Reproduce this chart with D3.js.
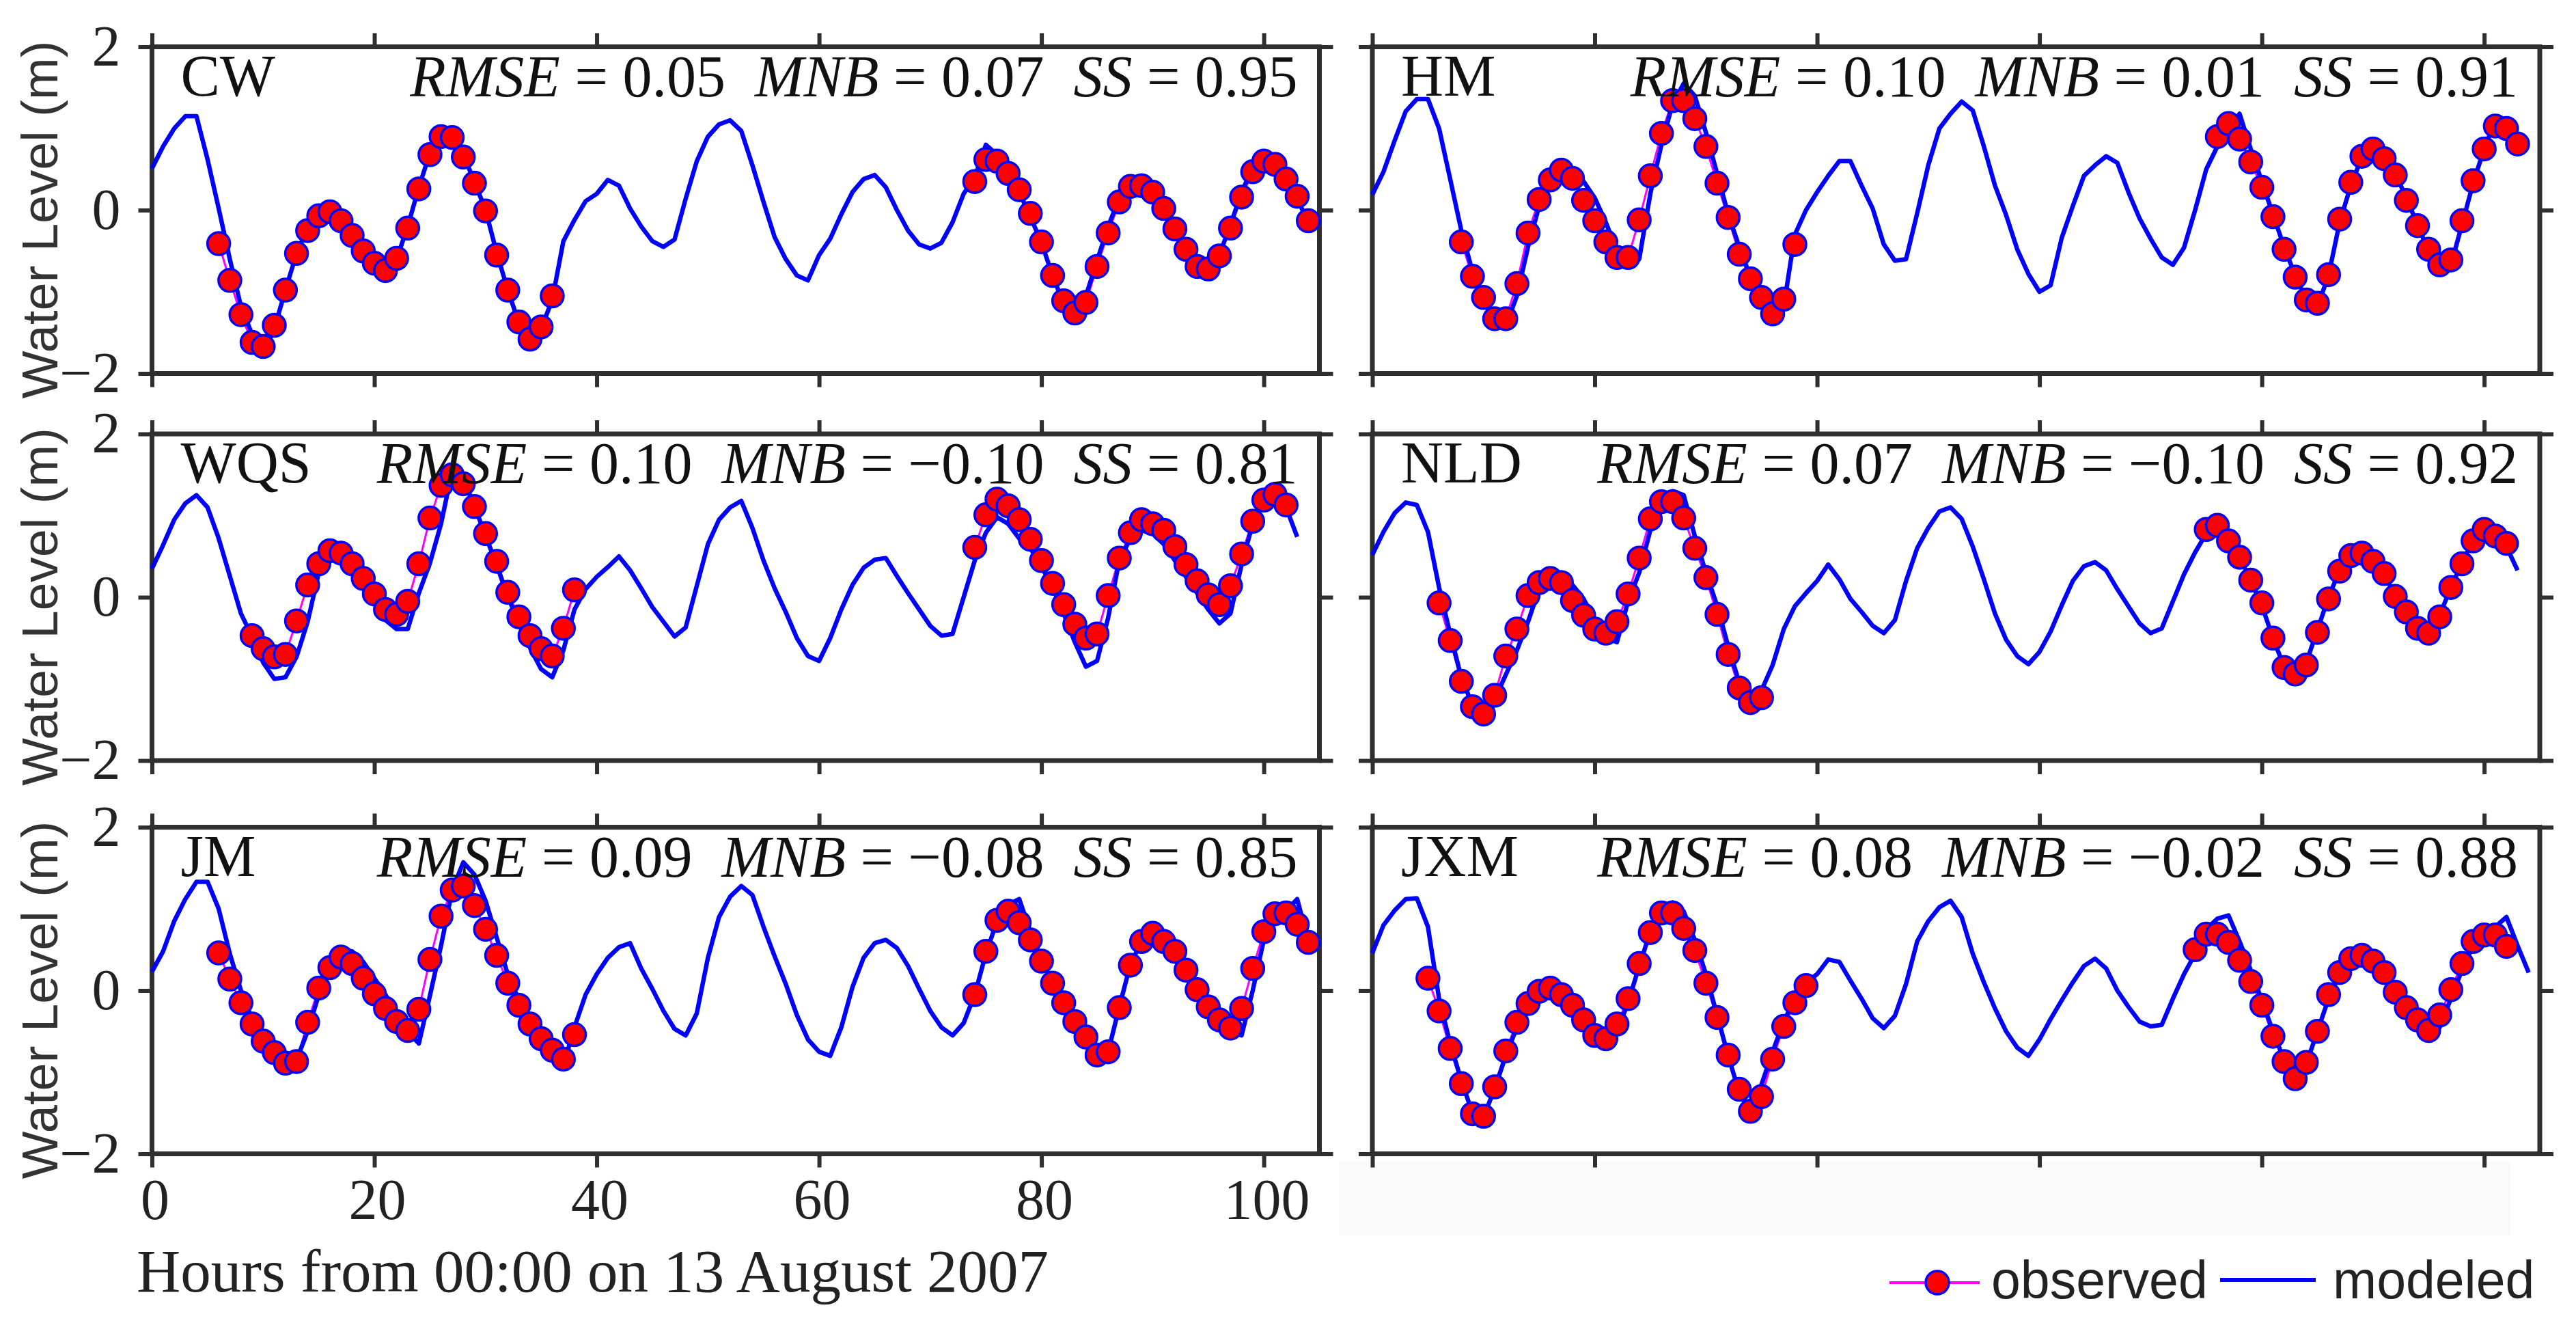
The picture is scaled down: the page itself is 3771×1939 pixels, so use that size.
<!DOCTYPE html>
<html><head><meta charset="utf-8">
<script src="https://cdn.jsdelivr.net/npm/d3@7"></script>
<style>
html,body{margin:0;padding:0;background:#fff;}
svg{display:block;}
</style></head><body>
<svg id="chart" width="3771" height="1939"></svg>
<script>
// ---------- data ----------
const stations = ["CW","HM","WQS","NLD","JM","JXM"];
const rmseVals = ["0.05","0.10","0.10","0.07","0.09","0.08"];
const mnbVals  = ["0.07","0.01","\u22120.10","\u22120.10","\u22120.08","\u22120.02"];
const ssVals   = ["0.95","0.91","0.81","0.92","0.85","0.88"];
const xTickValues = [0,20,40,60,80,100];
const yTickValues = [-2,0,2];
const xTitle = "Hours from 00:00 on 13 August 2007";
const yTitle = "Water Level (m)";
const legendLabels = ["observed","modeled"];

// modeled water level, hourly from hour 0
const modelCW = [0.51,0.78,1.0,1.15,1.15,0.62,0.02,-0.6,-1.18,-1.52,
 -1.78,-1.45,-0.98,-0.53,-0.22,-0.03,0.0,-0.1,-0.3,-0.5,
 -0.68,-0.78,-0.6,-0.2,0.28,0.7,0.95,0.93,0.68,0.35,
 0.0,-0.52,-0.98,-1.38,-1.62,-1.45,-1.1,-0.38,-0.12,0.11,
 0.2,0.37,0.3,0.02,-0.2,-0.38,-0.45,-0.36,0.14,0.6,
 0.9,1.05,1.1,0.97,0.55,0.1,-0.33,-0.6,-0.8,-0.86,
 -0.55,-0.35,-0.05,0.22,0.38,0.43,0.28,0.0,-0.25,-0.42,
 -0.47,-0.4,-0.15,0.2,0.4,0.8,0.68,0.45,0.22,-0.08,
 -0.4,-0.8,-1.15,-1.35,-1.05,-0.62,-0.2,0.15,0.33,0.33,
 0.22,0.0,-0.25,-0.5,-0.72,-0.78,-0.55,-0.18,0.22,0.52,
 0.63,0.57,0.38,0.14,-0.15];
const modelHM = [0.19,0.47,0.85,1.21,1.36,1.36,1.0,0.38,-0.25,-0.75,
 -1.1,-1.38,-1.42,-1.05,-0.45,0.05,0.4,0.58,0.5,0.35,
 0.15,-0.15,-0.5,-0.68,-0.6,0.2,0.8,1.3,1.55,1.4,
 0.95,0.45,-0.05,-0.45,-0.82,-1.1,-1.3,-1.18,-0.3,0.0,
 0.22,0.42,0.6,0.6,0.3,0.02,-0.42,-0.62,-0.6,-0.04,
 0.55,1.0,1.18,1.33,1.22,0.78,0.3,-0.06,-0.48,-0.78,
 -1.0,-0.92,-0.34,0.05,0.42,0.55,0.66,0.58,0.22,-0.1,
 -0.35,-0.58,-0.67,-0.46,0.0,0.5,0.78,1.0,1.18,0.75,
 0.35,-0.05,-0.45,-0.8,-1.1,-1.18,-0.8,-0.15,0.3,0.65,
 0.78,0.68,0.45,0.15,-0.18,-0.5,-0.7,-0.68,-0.18,0.33,
 0.75,1.1,1.12,0.85];
const modelWQS = [0.35,0.64,0.95,1.15,1.25,1.1,0.72,0.26,-0.2,-0.48,
 -0.8,-1.0,-0.98,-0.73,-0.3,0.3,0.62,0.52,0.38,0.18,
 -0.05,-0.28,-0.39,-0.39,0.05,0.42,0.9,1.55,1.45,1.12,
 0.75,0.4,0.0,-0.3,-0.62,-0.88,-0.98,-0.65,-0.15,0.1,
 0.25,0.37,0.5,0.33,0.11,-0.12,-0.3,-0.48,-0.37,0.14,
 0.65,0.95,1.1,1.18,0.85,0.45,0.11,-0.18,-0.5,-0.72,
 -0.78,-0.5,-0.15,0.15,0.36,0.46,0.48,0.26,0.05,-0.15,
 -0.35,-0.47,-0.45,0.0,0.45,0.79,0.98,0.9,0.72,0.6,
 0.38,0.12,-0.2,-0.55,-0.85,-0.78,-0.25,0.45,0.72,0.82,
 0.78,0.65,0.45,0.25,0.05,-0.15,-0.32,-0.2,0.4,0.9,
 1.18,1.28,1.1,0.74];
const modelNLD = [0.52,0.8,1.03,1.16,1.13,0.8,0.12,-0.45,-0.98,-1.32,
 -1.5,-1.25,-0.95,-0.65,-0.3,0.1,0.27,0.3,0.15,-0.02,
 -0.28,-0.5,-0.55,-0.05,0.3,0.82,1.2,1.3,1.25,0.75,
 0.3,-0.1,-0.6,-1.05,-1.38,-1.14,-0.83,-0.39,-0.11,0.05,
 0.2,0.4,0.22,-0.02,-0.18,-0.35,-0.44,-0.28,0.2,0.6,
 0.85,1.05,1.1,0.96,0.62,0.22,-0.2,-0.52,-0.72,-0.82,
 -0.67,-0.42,-0.1,0.2,0.38,0.43,0.33,0.1,-0.11,-0.32,
 -0.44,-0.38,-0.05,0.28,0.55,0.78,0.95,0.72,0.5,0.2,
 -0.1,-0.5,-0.85,-0.95,-0.8,-0.4,0.0,0.33,0.52,0.55,
 0.45,0.28,0.02,-0.2,-0.4,-0.45,-0.22,0.12,0.42,0.7,
 0.85,0.78,0.62,0.33];
const modelJM = [0.23,0.48,0.85,1.12,1.33,1.33,1.0,0.45,0.0,-0.35,
 -0.6,-0.8,-1.0,-0.85,-0.5,-0.05,0.3,0.5,0.48,0.35,
 0.15,-0.05,-0.31,-0.5,-0.65,-0.06,0.55,1.23,1.57,1.42,
 1.1,0.65,0.2,-0.12,-0.38,-0.6,-0.78,-0.92,-0.45,-0.05,
 0.2,0.4,0.53,0.58,0.27,0.02,-0.25,-0.47,-0.55,-0.28,
 0.4,0.9,1.15,1.28,1.17,0.78,0.42,0.08,-0.3,-0.6,
 -0.75,-0.8,-0.45,0.04,0.4,0.58,0.62,0.52,0.3,0.02,
 -0.25,-0.45,-0.55,-0.4,-0.05,0.45,0.85,1.05,1.12,0.72,
 0.38,0.1,-0.15,-0.38,-0.57,-0.78,-0.75,-0.2,0.32,0.6,
 0.7,0.6,0.48,0.25,0.0,-0.2,-0.38,-0.5,-0.55,0.0,
 0.62,0.9,0.98,1.12,0.6];
const modelJXM = [0.46,0.8,0.98,1.12,1.13,0.78,-0.1,-0.65,-1.1,-1.5,
 -1.55,-1.2,-0.8,-0.45,-0.1,0.04,0.12,0.05,-0.12,-0.3,
 -0.55,-0.62,-0.5,-0.15,0.3,0.72,1.0,1.08,0.97,0.62,
 0.2,-0.3,-0.8,-1.25,-1.5,-1.15,-0.75,-0.38,-0.1,0.1,
 0.2,0.38,0.35,0.12,-0.1,-0.34,-0.46,-0.31,0.08,0.6,
 0.85,1.02,1.1,0.9,0.45,0.1,-0.22,-0.5,-0.7,-0.8,
 -0.6,-0.35,-0.12,0.1,0.3,0.39,0.27,0.0,-0.2,-0.38,
 -0.44,-0.42,-0.1,0.2,0.45,0.75,0.88,0.92,0.6,0.25,
 -0.12,-0.5,-0.85,-1.05,-0.9,-0.5,-0.1,0.2,0.38,0.45,
 0.4,0.28,0.05,-0.18,-0.35,-0.45,-0.45,-0.1,0.25,0.55,
 0.7,0.78,0.9,0.55,0.22];

// observed water level: two hourly windows, each with its start hour
const obsStartCW = [6,74];
const obsCW_a = [-0.41,-0.86,-1.28,-1.62,-1.67,-1.41,-0.98,-0.53,-0.25,-0.07,-0.02,-0.13,-0.31,-0.50,-0.65,-0.74,-0.59,-0.22,0.26,0.68,0.90,0.89,0.65,0.33,-0.01,-0.55,-0.98,-1.37,-1.58,-1.43,-1.05];
const obsCW_b = [0.35,0.62,0.60,0.45,0.25,-0.04,-0.39,-0.80,-1.11,-1.26,-1.13,-0.69,-0.28,0.10,0.29,0.30,0.22,0.02,-0.23,-0.48,-0.69,-0.72,-0.56,-0.22,0.16,0.47,0.60,0.56,0.38,0.17,-0.13];
const obsStartHM = [8,76];
const obsHM_a = [-0.39,-0.81,-1.07,-1.33,-1.33,-0.90,-0.28,0.13,0.37,0.49,0.39,0.12,-0.13,-0.39,-0.58,-0.58,-0.12,0.42,0.94,1.34,1.34,1.12,0.78,0.33,-0.09,-0.54,-0.84,-1.07,-1.27,-1.09,-0.42];
const obsHM_b = [0.90,1.06,0.87,0.59,0.28,-0.08,-0.48,-0.82,-1.10,-1.14,-0.79,-0.11,0.34,0.66,0.75,0.63,0.43,0.12,-0.19,-0.48,-0.67,-0.61,-0.13,0.36,0.75,1.03,1.00,0.81];
const obsStartWQS = [9,74];
const obsWQS_a = [-0.47,-0.63,-0.73,-0.70,-0.29,0.15,0.41,0.57,0.54,0.41,0.23,0.04,-0.15,-0.21,-0.05,0.41,0.97,1.37,1.50,1.39,1.11,0.78,0.44,0.06,-0.24,-0.47,-0.63,-0.72,-0.38,0.09];
const obsWQS_b = [0.61,1.01,1.2,1.12,0.95,0.71,0.45,0.17,-0.09,-0.33,-0.5,-0.45,0.02,0.48,0.79,0.95,0.9,0.82,0.62,0.4,0.2,0.03,-0.09,0.14,0.53,0.93,1.19,1.26,1.13];
const obsStartNLD = [6,75];
const obsNLD_a = [-0.07,-0.53,-1.03,-1.34,-1.43,-1.2,-0.72,-0.39,0.02,0.18,0.23,0.18,-0.04,-0.22,-0.39,-0.44,-0.3,0.04,0.48,0.96,1.17,1.17,0.97,0.6,0.24,-0.21,-0.7,-1.11,-1.29,-1.23];
const obsNLD_b = [0.83,0.88,0.69,0.49,0.21,-0.07,-0.5,-0.86,-0.94,-0.83,-0.43,-0.02,0.32,0.51,0.54,0.44,0.29,0.01,-0.18,-0.38,-0.44,-0.24,0.12,0.41,0.69,0.83,0.75,0.66];
const obsStartJM = [6,74];
const obsJM_a = [0.46,0.14,-0.15,-0.41,-0.62,-0.76,-0.89,-0.87,-0.39,0.03,0.28,0.41,0.33,0.15,-0.04,-0.22,-0.38,-0.49,-0.23,0.38,0.91,1.23,1.28,1.04,0.75,0.43,0.09,-0.18,-0.41,-0.59,-0.73,-0.84,-0.54];
const obsJM_b = [-0.05,0.48,0.86,0.97,0.83,0.62,0.36,0.09,-0.15,-0.38,-0.57,-0.79,-0.75,-0.21,0.31,0.6,0.7,0.6,0.48,0.25,0.01,-0.2,-0.36,-0.46,-0.22,0.27,0.72,0.94,0.95,0.81,0.59];
const obsStartJXM = [5,74];
const obsJXM_a = [0.15,-0.25,-0.71,-1.14,-1.51,-1.54,-1.18,-0.74,-0.39,-0.16,-0.01,0.03,-0.05,-0.18,-0.36,-0.55,-0.59,-0.41,-0.1,0.33,0.71,0.95,0.95,0.76,0.49,0.09,-0.33,-0.79,-1.21,-1.48,-1.3,-0.84,-0.44,-0.15,0.06];
const obsJXM_b = [0.5,0.69,0.69,0.59,0.37,0.11,-0.18,-0.56,-0.87,-1.08,-0.88,-0.5,-0.05,0.22,0.39,0.43,0.36,0.22,-0.02,-0.21,-0.36,-0.49,-0.3,0.01,0.33,0.6,0.68,0.68,0.54];

// ---------- assemble ----------
const models = [modelCW, modelHM, modelWQS, modelNLD, modelJM, modelJXM];
const obsStarts = [obsStartCW, obsStartHM, obsStartWQS, obsStartNLD, obsStartJM, obsStartJXM];
const obsSets = [[obsCW_a,obsCW_b],[obsHM_a,obsHM_b],[obsWQS_a,obsWQS_b],[obsNLD_a,obsNLD_b],[obsJM_a,obsJM_b],[obsJXM_a,obsJXM_b]];

const svg = d3.select("#chart");
const SERIF = "'Liberation Serif','Times New Roman',serif";
const SANS = "'Liberation Sans',Arial,sans-serif";
const FRAME = "#2f2f2f";

const colLeft = [222.5, 2009];
const rowTop = [68.5, 635, 1210.5];
const PW = 1709, PH = 478;

// very faint band below right bottom panel
svg.append("rect").attr("x",1960).attr("y",1700).attr("width",1715).attr("height",108).attr("fill","#fafafa");

stations.forEach((name, i) => {
  const col = i % 2, row = Math.floor(i / 2);
  const L = colLeft[col], T = rowTop[row];
  const x = d3.scaleLinear().domain([0,105]).range([L, L+PW]);
  const y = d3.scaleLinear().domain([-2,2]).range([T+PH, T]);
  const g = svg.append("g");

  const showX = (row === 2 && col === 0);
  const ax = [
    g.append("g").attr("transform",`translate(0,${T})`).call(d3.axisTop(x).tickValues(xTickValues).tickSize(20).tickSizeOuter(0).tickFormat("")),
    g.append("g").attr("transform",`translate(0,${T+PH})`).call(d3.axisBottom(x).tickValues(xTickValues).tickSize(20).tickSizeOuter(0).tickPadding(16).tickFormat(showX ? d3.format("d") : "")),
    g.append("g").attr("transform",`translate(${L},0)`).call(d3.axisLeft(y).tickValues(yTickValues).tickSize(20).tickSizeOuter(0).tickPadding(26).tickFormat(col===0 ? (d => d<0 ? "\u2212"+Math.abs(d) : String(d)) : "")),
    g.append("g").attr("transform",`translate(${L+PW},0)`).call(d3.axisRight(y).tickValues(yTickValues).tickSize(20).tickSizeOuter(0).tickFormat(""))
  ];
  ax.forEach(a => {
    a.select(".domain").remove();
    a.selectAll(".tick line").attr("stroke",FRAME).attr("stroke-width",6);
    a.selectAll(".tick text").attr("font-family",SERIF).attr("font-size",84).attr("fill","#222");
  });
  ax[1].selectAll(".tick text").attr("dx",4);

  g.append("rect").attr("x",L).attr("y",T).attr("width",PW).attr("height",PH)
    .attr("fill","none").attr("stroke",FRAME).attr("stroke-width",7);

  const obsGroups = obsSets[i].map((vals,k) => vals.map((v,j) => ({h: obsStarts[i][k]+j, v})));
  const line = d3.line().x(d => x(d.h)).y(d => y(d.v));
  obsGroups.forEach(grp => {
    g.append("path").datum(grp).attr("d",line).attr("fill","none")
      .attr("stroke","#ff00ff").attr("stroke-width",3);
  });
  const mData = models[i].map((v,h) => ({h, v}));
  g.append("path").datum(mData).attr("d",line).attr("fill","none")
    .attr("stroke","#0000ff").attr("stroke-width",6.5).attr("stroke-linejoin","round");
  obsGroups.forEach(grp => {
    g.selectAll(null).data(grp).enter().append("circle")
      .attr("cx",d => x(d.h)).attr("cy",d => y(d.v)).attr("r",16.5)
      .attr("fill","#ff0000").attr("stroke","#0000ff").attr("stroke-width",3.5);
  });

  g.append("text").attr("x",L+42).attr("y",T+71).attr("font-family",SERIF)
    .attr("font-size",86).attr("fill","#111").text(name);
  const st = g.append("text").attr("x",L+PW-32).attr("y",T+72).attr("text-anchor","end")
    .attr("font-family",SERIF).attr("font-size",86).attr("fill","#111").style("white-space","pre");
  st.append("tspan").attr("font-style","italic").text("RMSE");
  st.append("tspan").text(" = " + rmseVals[i] + "  ");
  st.append("tspan").attr("font-style","italic").text("MNB");
  st.append("tspan").text(" = " + mnbVals[i] + "  ");
  st.append("tspan").attr("font-style","italic").text("SS");
  st.append("tspan").text(" = " + ssVals[i]);

  if (col === 0) {
    svg.append("text").attr("transform",`translate(84,${T+PH/2+14}) rotate(-90)`)
      .attr("text-anchor","middle").attr("font-family",SANS).attr("font-size",74)
      .attr("fill","#333").text(yTitle);
  }
});

svg.append("text").attr("x",200).attr("y",1890).attr("font-family",SERIF)
  .attr("font-size",89).attr("fill","#222").text(xTitle);

const lg = svg.append("g");
lg.append("line").attr("x1",2766).attr("x2",2898).attr("y1",1877).attr("y2",1877)
  .attr("stroke","#ff00ff").attr("stroke-width",4);
lg.append("circle").attr("cx",2836).attr("cy",1877).attr("r",17)
  .attr("fill","#ff0000").attr("stroke","#0000ff").attr("stroke-width",3.5);
lg.append("text").attr("x",2915).attr("y",1900).attr("font-family",SANS).attr("font-size",77)
  .attr("fill","#222").text(legendLabels[0]);
lg.append("line").attr("x1",3250).attr("x2",3390).attr("y1",1873).attr("y2",1873)
  .attr("stroke","#0000ff").attr("stroke-width",6);
lg.append("text").attr("x",3415).attr("y",1900).attr("font-family",SANS).attr("font-size",77)
  .attr("fill","#222").text(legendLabels[1]);
</script>
</body></html>
